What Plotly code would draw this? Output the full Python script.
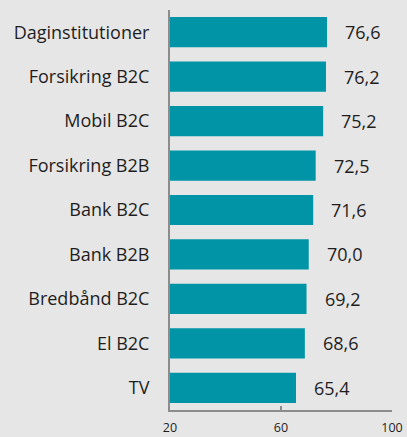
import plotly.graph_objects as go

categories = ["Daginstitutioner", "Forsikring B2C", "Mobil B2C", "Forsikring B2B",
              "Bank B2C", "Bank B2B", "Bredbånd B2C", "El B2C", "TV"]
values = [76.6, 76.2, 75.2, 72.5, 71.6, 70.0, 69.2, 68.6, 65.4]
value_labels = [f"{v:.1f}".replace(".", ",") for v in values]
x_ticks = [20, 60, 100]

BG = "#e7e6e6"
BAR = "#0094a6"
TXT = "#1e1e1e"
AXIS = "#8c8c8c"
FONT = "Open Sans"

fig = go.Figure()
fig.add_trace(go.Bar(
    y=categories, x=values, orientation="h",
    marker=dict(color=BAR, line=dict(width=0)),
    hoverinfo="skip",
))

for c, v, t in zip(categories, values, value_labels):
    fig.add_annotation(x=v, y=c, text=t, showarrow=False, xanchor="left",
                       xshift=16, font=dict(family=FONT, size=18, color=TXT))

fig.update_layout(
    template="none",
    width=407, height=437,
    margin=dict(l=170, r=15, t=10, b=27, autoexpand=False),
    paper_bgcolor=BG, plot_bgcolor=BG,
    bargap=0.32, showlegend=False, hovermode=False,
    font=dict(family=FONT, color=TXT),
)
fig.update_xaxes(
    range=[20, 100], tickvals=x_ticks, ticktext=[str(v) for v in x_ticks],
    showgrid=False, zeroline=False, automargin=False,
    showline=True, linecolor=AXIS, linewidth=2,
    ticks="inside", ticklen=4, tickcolor=AXIS, tickwidth=2,
    ticklabelstandoff=5,
    tickfont=dict(family=FONT, size=12.5, color=TXT),
)
fig.update_yaxes(
    autorange="reversed", showgrid=False, zeroline=False, automargin=False,
    showline=True, linecolor=AXIS, linewidth=2,
    ticks="", ticklabelstandoff=15,
    tickfont=dict(family=FONT, size=18, color=TXT),
)

fig.write_html(
    "out.html",
    config={"displayModeBar": False, "staticPlot": True},
    post_script=("document.body.style.margin='0';"
                 "document.body.style.overflow='hidden';"
                 "document.documentElement.style.overflow='hidden';"),
)
